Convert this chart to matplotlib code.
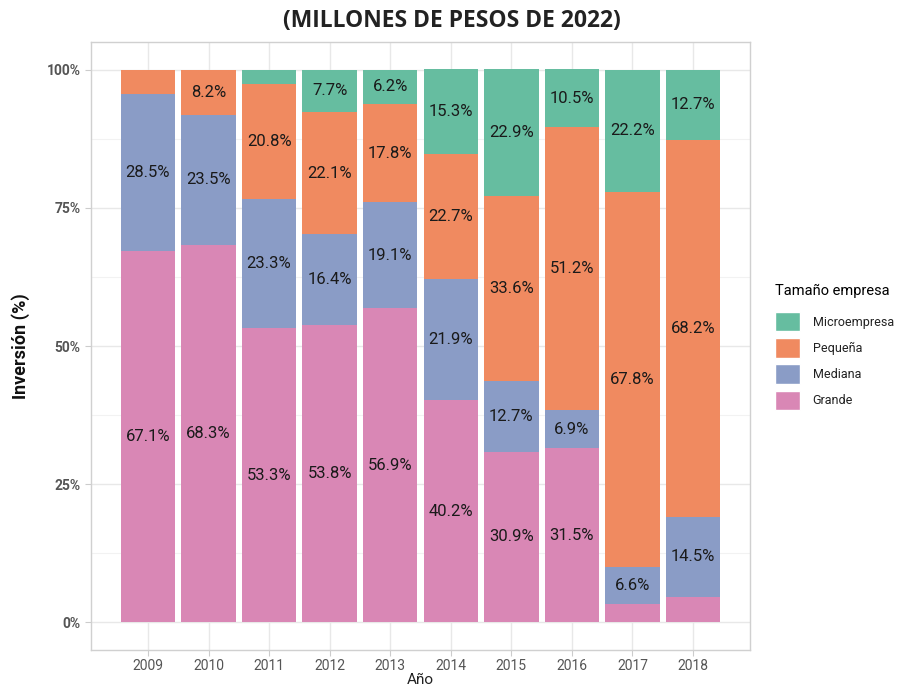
import matplotlib
matplotlib.use("Agg")
import matplotlib.pyplot as plt
import numpy as np
from matplotlib.patches import Patch

years = ["2009", "2010", "2011", "2012", "2013", "2014", "2015", "2016", "2017", "2018"]
grande = [67.1, 68.3, 53.3, 53.8, 56.9, 40.2, 30.9, 31.5, 3.4, 4.6]
mediana = [28.5, 23.5, 23.3, 16.4, 19.1, 21.9, 12.7, 6.9, 6.6, 14.5]
pequena = [4.4, 8.2, 20.8, 22.1, 17.8, 22.7, 33.6, 51.2, 67.8, 68.2]
micro = [0.0, 0.0, 2.6, 7.7, 6.2, 15.3, 22.9, 10.5, 22.2, 12.7]

series = [("Grande", grande, "#d987b5"), ("Mediana", mediana, "#8a9cc6"),
          ("Pequeña", pequena, "#f08a60"), ("Microempresa", micro, "#66bda0")]

plt.rcParams['font.family'] = ['Roboto', 'DejaVu Sans']
fig = plt.figure(figsize=(8.98, 6.89), dpi=100)
ax = fig.add_axes([91/898, 1-650/689, (750-91)/898, (650-42)/689])

x = np.arange(len(years))
bottom = np.zeros(len(years))
for name, vals, col in series:
    v = np.array(vals)
    ax.bar(x, v, width=0.9, bottom=bottom, color=col, edgecolor="none", linewidth=0, zorder=3)
    for xi, b, h in zip(x, bottom, v):
        if h >= 5:
            ax.text(xi, b + h/2, f"{h:.1f}%", ha="center", va="center", fontsize=12, color="#1a1a1a", zorder=4)
    bottom += v

ax.set_xlim(-0.94, 9.94)
ax.set_ylim(-5, 105)
ax.set_xticks(x)
ax.set_xticklabels(years)
ax.set_yticks([0, 25, 50, 75, 100])
ax.set_yticklabels(["0%", "25%", "50%", "75%", "100%"], fontweight="bold")
ax.set_yticks([12.5, 37.5, 62.5, 87.5], minor=True)
ax.grid(True, which="major", color="#e8e8e8", linewidth=1.0, zorder=0)
ax.grid(True, which="minor", axis="y", color="#f2f2f2", linewidth=0.8, zorder=0)
ax.tick_params(axis="both", which="major", length=4, color="#cccccc", labelcolor="#555555", labelsize=10)
ax.tick_params(axis="x", which="major", pad=2.5)
ax.tick_params(axis="y", which="minor", length=0)
for s in ax.spines.values():
    s.set_color("#d0d0d0")
    s.set_linewidth(1.0)
ax.set_xlabel("Año", fontsize=11, color="#222222", labelpad=0)
ax.set_ylabel("Inversión (%)", fontsize=13, fontweight="bold", color="#111111", labelpad=12)

fig.text(452/898, 1-21/689, "(MILLONES DE PESOS DE 2022)", ha="center", va="center",
         fontsize=16.5, fontweight="bold", color="#222222", family=["Open Sans", "DejaVu Sans"])

handles = [Patch(facecolor=c, edgecolor="white", label=n) for n, _, c in reversed(series)]
leg = fig.legend(handles=handles, title="Tamaño empresa", loc="upper left",
                 bbox_to_anchor=(770/898, 1-279/689), frameon=False, fontsize=9,
                 title_fontsize=10.5, handlelength=2.0, handleheight=2.0, labelspacing=0.55,
                 handletextpad=1.0, borderpad=0.2, borderaxespad=0.2)
leg._legend_box.align = "left"
leg._legend_box.sep = 10
for t in leg.get_texts():
    t.set_color("#222222")

fig.savefig("out.png", dpi=100)
